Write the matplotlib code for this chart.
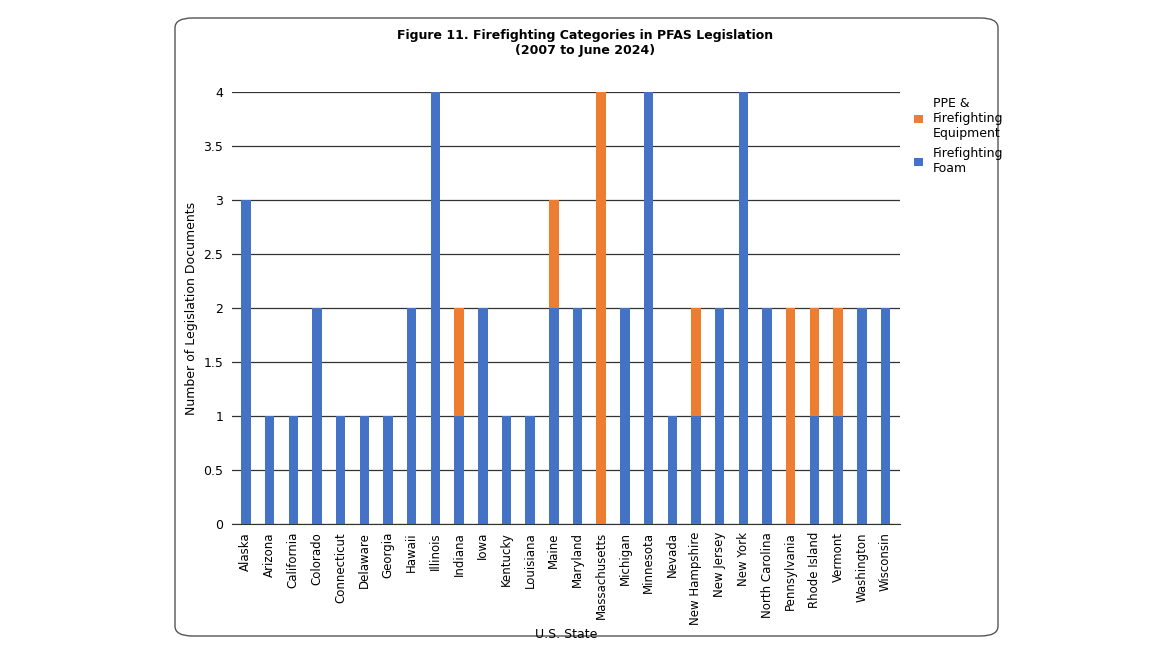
import matplotlib.pyplot as plt
from matplotlib.patches import FancyBboxPatch

states = ["Alaska", "Arizona", "California", "Colorado", "Connecticut", "Delaware", "Georgia",
          "Hawaii", "Illinois", "Indiana", "Iowa", "Kentucky", "Louisiana", "Maine", "Maryland",
          "Massachusetts", "Michigan", "Minnesota", "Nevada", "New Hampshire", "New Jersey",
          "New York", "North Carolina", "Pennsylvania", "Rhode Island", "Vermont", "Washington",
          "Wisconsin"]
foam = [3, 1, 1, 2, 1, 1, 1, 2, 4, 1, 2, 1, 1, 2, 2, 0, 2, 4, 1, 1, 2, 4, 2, 0, 1, 1, 2, 2]
ppe = [0, 0, 0, 0, 0, 0, 0, 0, 0, 1, 0, 0, 0, 1, 0, 4, 0, 0, 0, 1, 0, 0, 0, 2, 1, 1, 0, 0]
yticks = [0, 0.5, 1, 1.5, 2, 2.5, 3, 3.5, 4]

blue = "#4472C4"
orange = "#ED7D31"

fig = plt.figure(figsize=(11.7, 6.58), dpi=100)
fig.patches.append(FancyBboxPatch((175 / 1170, 1 - 636 / 658), 823 / 1170, 618 / 658,
                                  boxstyle="round,pad=0,rounding_size=0.015",
                                  transform=fig.transFigure, facecolor="white",
                                  edgecolor="#555555", linewidth=1, zorder=-5))

ax = fig.add_axes([0.198, 0.204, 0.571, 0.656])
ax.set_zorder(2)
ax.patch.set_alpha(0)
x = range(len(states))
ax.bar(x, foam, width=0.4, color=blue, label="Firefighting\nFoam", zorder=3)
ax.bar(x, ppe, width=0.4, bottom=foam, color=orange, label="PPE &\nFirefighting\nEquipment", zorder=3)

ax.set_xlim(-0.6, len(states) - 0.4)
ax.set_ylim(0, 4)
ax.set_yticks(yticks)
ax.set_yticklabels([f"{v:g}" for v in yticks], fontsize=9)
ax.set_xticks(list(x))
ax.set_xticklabels(states, rotation=90, fontsize=8.5)
ax.tick_params(axis="both", length=0, pad=6)
ax.grid(axis="y", color="#333333", linewidth=0.9, zorder=0)
for s in ["top", "right", "left"]:
    ax.spines[s].set_visible(False)
ax.spines["bottom"].set_color("#333333")
ax.set_ylabel("Number of Legislation Documents", fontsize=9)
ax.set_xlabel("U.S. State", fontsize=9, labelpad=2)

fig.text(0.5, 1 - 43 / 658, "Figure 11. Firefighting Categories in PFAS Legislation\n(2007 to June 2024)",
         ha="center", va="center", fontsize=9, fontweight="bold")

h, l = ax.get_legend_handles_labels()
fig.legend(h[::-1], l[::-1], loc="upper left", bbox_to_anchor=(0.772, 0.87), frameon=False,
           fontsize=9, handlelength=0.7, handleheight=0.7, labelspacing=0.6)

fig.savefig("out.png", dpi=100)
